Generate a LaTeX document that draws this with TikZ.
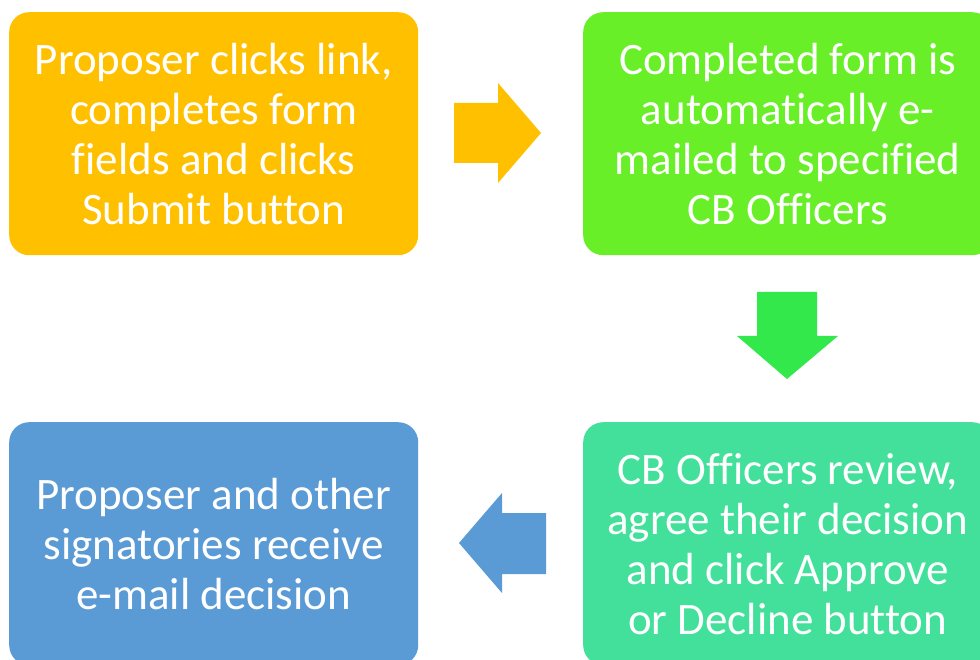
\documentclass[tikz,border=0pt]{standalone}
\usepackage{fontspec}
\setmainfont[Ligatures=NoCommon]{Carlito}
\definecolor{cOrange}{HTML}{FFC000}
\definecolor{cGreen}{HTML}{68EF27}
\definecolor{cArrowG}{HTML}{32E84A}
\definecolor{cTeal}{HTML}{43E09B}
\definecolor{cBlue}{HTML}{5B9BD5}
\begin{document}
\begin{tikzpicture}[x=1pt,y=-1pt,
  box/.style={rounded corners=20pt, minimum width=409pt, minimum height=243pt, inner sep=0pt,
    align=center, text=white, font=\fontsize{45}{50}\selectfont, anchor=north west}]
\useasboundingbox (0,0) rectangle (980,660);
\clip (0,0) rectangle (980,660);
\node[box, fill=cOrange] (b1) at (9,12) {Proposer clicks link,\\completes form\\fields and clicks\\Submit button};
\node[box, fill=cGreen] (b2) at (583,12) {Completed form is\\automatically e-\\mailed to specified\\CB Officers};
\node[box, fill=cTeal] (b3) at (583,422) {CB Officers review,\\agree their decision\\and click Approve\\or Decline button};
\node[box, fill=cBlue] (b4) at (9,422) {Proposer and other\\signatories receive\\e-mail decision};
% right arrow
\fill[cOrange] (454,103) -- (498,103) -- (498,83) -- (541,133) -- (498,183) -- (498,163) -- (454,163) -- cycle;
% down arrow
\fill[cArrowG] (757,292) -- (817,292) -- (817,336) -- (838,336) -- (787,379) -- (737,336) -- (757,336) -- cycle;
% left arrow
\fill[cBlue] (546,513) -- (502,513) -- (502,493) -- (459,543) -- (502,593) -- (502,574) -- (546,574) -- cycle;
\end{tikzpicture}
\end{document}
